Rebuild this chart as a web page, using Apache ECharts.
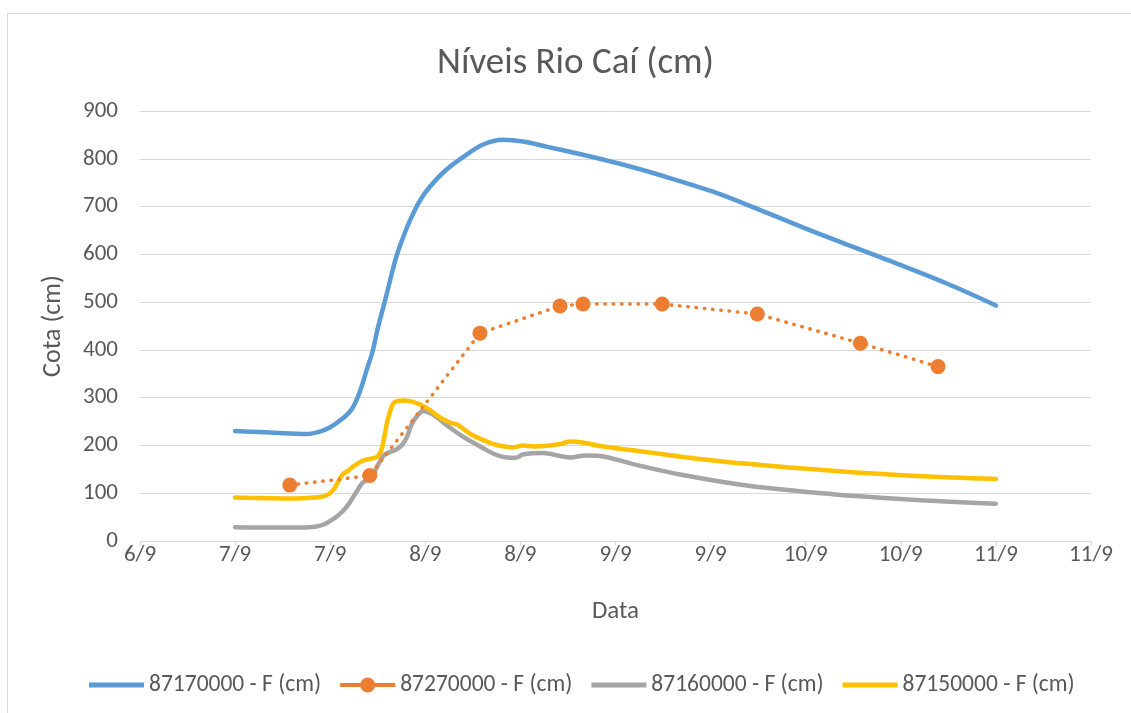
<!DOCTYPE html>
<html>
<head>
<meta charset="utf-8">
<script src="https://cdn.jsdelivr.net/npm/echarts@6/dist/echarts.min.js"></script>
<style>
  html, body { margin: 0; padding: 0; background: #ffffff; }
  #chart { width: 1131px; height: 713px; }
</style>
</head>
<body>
<div id="chart"></div>
<script>
// Hours counted from 6/9 00:00; ticks every 12 h from 6/9 12:00 to 11/9 12:00
const tickLabels = ['6/9', '7/9', '7/9', '8/9', '8/9', '9/9', '9/9', '10/9', '10/9', '11/9', '11/9'];

const seriesNames = ['87170000 - F (cm)', '87270000 - F (cm)', '87160000 - F (cm)', '87150000 - F (cm)'];

// 87170000 - [hour, level cm]
const station87170000 = [
  [24, 230], [27.1, 228], [30.9, 225], [33.1, 224], [34.7, 229], [36, 238],
  [37.2, 252], [38.1, 264], [38.8, 278], [39.4, 298], [40, 325], [40.6, 358],
  [41.3, 394], [42, 445], [42.9, 502], [43.7, 555], [44.4, 598], [45.3, 640],
  [46.1, 672], [47.3, 712], [48.6, 742], [50.5, 775], [52.8, 804], [55.3, 830],
  [57.8, 840], [60.3, 836], [63.4, 825], [67.5, 810], [72.9, 788], [77.6, 766],
  [84.3, 731], [90.2, 693], [96.9, 648], [105.4, 594], [113.8, 539], [120, 493]
];

// 87270000 - sparse readings
const station87270000 = [
  [30.9, 117], [41, 137], [54.9, 435], [65, 492], [67.9, 496],
  [77.9, 496], [89.9, 475], [102.9, 414], [112.7, 365]
];

// 87160000
const station87160000 = [
  [24, 29], [27.1, 28], [31.8, 28], [34.1, 30], [35.1, 34], [36, 42],
  [36.9, 52], [38.1, 72], [39.4, 105], [40.1, 122], [41.3, 135], [41.9, 155],
  [42.7, 178], [43.5, 186], [44.4, 192], [45.1, 202], [45.7, 218], [46.3, 245],
  [47, 262], [47.7, 272], [49, 264], [50.9, 240], [52.8, 218], [54.9, 198],
  [57, 180], [58.7, 174], [59.6, 175], [60.3, 181], [62.9, 184], [65, 178],
  [66.3, 175], [68.2, 179], [70, 178], [74.2, 161], [80.5, 138], [89, 115],
  [99.4, 98], [110, 86], [120, 78]
];

// 87150000
const station87150000 = [
  [24, 91], [31.8, 89], [34.7, 92], [35.6, 96], [36.4, 107], [37.6, 140],
  [38.2, 146], [38.9, 156], [40.1, 168], [41.9, 176], [42.4, 188], [42.8, 215],
  [43.2, 250], [43.5, 268], [43.9, 286], [44.5, 293], [45.3, 294], [47, 288],
  [48.6, 274], [49.9, 258], [51.1, 248], [52.1, 243], [53.6, 225], [55.5, 210],
  [57, 201], [59.1, 196], [60.3, 200], [61.8, 198], [63.7, 200], [65, 203],
  [66.3, 208], [68.2, 205], [70, 199], [74.2, 190], [80.5, 176], [89, 161],
  [99.4, 147], [110, 136], [120, 130]
];

const colors = ['#5B9BD5', '#ED7D31', '#A5A5A5', '#FFC000'];
const textColor = '#595959';
const gridColor = '#D9D9D9';
const font = 'Carlito, Calibri, Lato, "Open Sans", sans-serif';

// Legend swatches: plain bar for the continuous series, bar with a dot for the sampled one
const barIcon = 'path://M0,0H55V5H0Z';
const dotIcon = 'path://M0,5.5H20.4V9.5H0Z M34.6,5.5H55V9.5H34.6Z M20,7.5A7.5,7.5 0 1 1 35,7.5A7.5,7.5 0 1 1 20,7.5Z';

const chart = echarts.init(document.getElementById('chart'), null, { renderer: 'canvas' });

function solidLine(name, data, color) {
  return {
    name: name,
    type: 'line',
    data: data,
    showSymbol: false,
    symbol: 'none',
    smooth: 0.35,
    lineStyle: { color: color, width: 4.5, cap: 'round', join: 'round' },
    itemStyle: { color: color },
    z: 2
  };
}

chart.setOption({
  animation: false,
  backgroundColor: '#ffffff',
  color: colors,
  textStyle: { fontFamily: font },
  graphic: [{
    type: 'rect',
    shape: { x: 7.5, y: 13.5, width: 1200, height: 800 },
    style: { fill: 'none', stroke: gridColor, lineWidth: 1 },
    silent: true,
    z: -1
  }],
  title: {
    text: 'Níveis Rio Caí (cm)',
    left: 432,
    top: 40,
    textStyle: { fontFamily: font, fontSize: 37, fontWeight: 'normal', color: textColor }
  },
  grid: { left: 140, right: 40, top: 111, bottom: 172, containLabel: false },
  xAxis: {
    type: 'value',
    min: 12,
    max: 132,
    interval: 12,
    name: 'Data',
    nameLocation: 'middle',
    nameGap: 58,
    nameTextStyle: { fontFamily: font, fontSize: 25, color: textColor },
    axisLine: { show: true, lineStyle: { color: gridColor, width: 1 } },
    axisTick: { show: true, length: 5, lineStyle: { color: gridColor } },
    splitLine: { show: false },
    axisLabel: {
      color: textColor,
      fontFamily: font,
      fontSize: 23,
      margin: 3,
      formatter: function (v) { return tickLabels[Math.round((v - 12) / 12)]; }
    }
  },
  yAxis: {
    type: 'value',
    min: 0,
    max: 900,
    interval: 100,
    name: 'Cota (cm)',
    nameLocation: 'middle',
    nameGap: 74,
    nameTextStyle: { fontFamily: font, fontSize: 26, color: textColor },
    axisLine: { show: false },
    axisTick: { show: false },
    splitLine: { show: true, lineStyle: { color: gridColor, width: 1 } },
    axisLabel: { color: textColor, fontFamily: font, fontSize: 23, margin: 22 }
  },
  legend: {
    top: 668,
    left: 84,
    itemWidth: 55,
    itemHeight: 15,
    itemGap: 19,
    symbolKeepAspect: true,
    textStyle: { fontFamily: font, fontSize: 23.5, color: textColor },
    data: [
      { name: seriesNames[0], icon: barIcon },
      { name: seriesNames[1], icon: dotIcon },
      { name: seriesNames[2], icon: barIcon },
      { name: seriesNames[3], icon: barIcon }
    ]
  },
  series: [
    solidLine(seriesNames[0], station87170000, colors[0]),
    {
      name: seriesNames[1],
      type: 'line',
      data: station87270000,
      symbol: 'circle',
      symbolSize: 15,
      showSymbol: true,
      lineStyle: { color: colors[1], width: 3.5, type: [0.5, 7.8], cap: 'round' },
      itemStyle: { color: colors[1] },
      z: 3
    },
    solidLine(seriesNames[2], station87160000, colors[2]),
    solidLine(seriesNames[3], station87150000, colors[3])
  ]
});
</script>
</body>
</html>
